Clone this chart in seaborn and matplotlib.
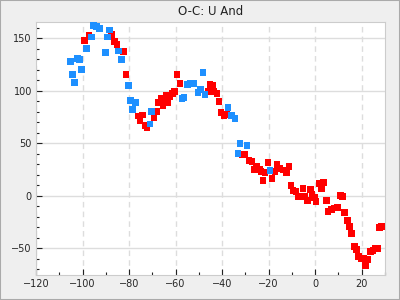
import matplotlib
matplotlib.use("Agg")
import matplotlib.pyplot as plt
from matplotlib.patches import Rectangle
from matplotlib.ticker import MultipleLocator
import seaborn as sns
import pandas as pd

title = "O-C: U And"

blue_x = [-95.3, -94.1, -92.7, -96.2, -88.4, -89.3, -98.3, -90.1, -84.5, -83.2,
          -102.2, -101.3, -105.2, -100.5, -104.3, -103.5, -80.2, -79.3, -77.2, -78.5,
          -70.3, -71.1, -57.3, -56.3, -54.8, -53.5, -52.2, -48.3, -50.4, -49.2,
          -47.4, -37.5, -35.9, -34.5, -32.3, -29.3, -33.2, -19.4]
blue_y = [162.4, 161.0, 159.5, 151.2, 157.9, 151.2, 140.5, 136.7, 137.9, 130.0,
          131.0, 129.6, 128.1, 120.5, 115.7, 108.1, 105.2, 91.0, 89.0, 82.4,
          80.5, 68.4, 92.9, 93.8, 106.2, 107.1, 107.1, 117.6, 98.6, 101.4,
          96.7, 84.3, 76.7, 73.8, 50.0, 48.1, 40.5, 24.3]

red_x = [-97.3, -99.2, -87.5, -86.2, -85.2, -82.4, -81.3, -59.5, -58.2, -76.1,
         -74.2, -75.3, -73.0, -72.3, -69.2, -68.1, -67.3, -66.2, -65.4, -64.2,
         -63.4, -62.5, -61.4, -60.4, -45.3, -44.2, -46.1, -43.5, -42.3, -41.4,
         -40.5, -39.2, -38.2, -31.3, -30.1, -28.4, -27.1, -25.3, -26.1, -24.0,
         -23.3, -21.6, -22.4, -20.3, -18.5, -17.2, -16.4, -15.2, -13.8, -12.3,
         -11.2, -10.3, -9.5, -8.2, -7.3, -5.2, -6.0, -4.3, -3.4, -2.1,
         -1.3, -0.4, 0.4, 1.7, 3.5, 2.6, 4.8, 5.6, 6.9, 8.2,
         9.5, 10.8, 11.8, 12.5, 13.8, 14.7, 15.5, 16.8, 17.7, 18.6,
         19.8, 21.0, 21.6, 22.5, 23.7, 24.8, 25.8, 26.9, 27.7, 28.6]
red_y = [152.9, 148.1, 153.8, 147.1, 144.3, 137.6, 115.7, 115.7, 107.1, 76.0,
         77.0, 71.2, 67.1, 65.2, 74.8, 80.5, 89.0, 92.9, 86.2, 95.7,
         89.0, 94.8, 97.6, 99.5, 106.2, 105.2, 99.5, 99.5, 97.6, 90.0,
         79.5, 76.7, 77.6, 39.5, 39.5, 33.8, 32.9, 28.1, 25.2, 25.8,
         23.3, 22.4, 14.8, 31.9, 16.7, 23.3, 30.0, 26.2, 24.6, 22.4,
         28.1, 10.0, 5.2, 4.3, -0.5, 7.1, -0.5, -0.5, -4.3, 6.2,
         2.0, -1.4, -5.2, 11.9, 12.9, 7.1, -4.3, -14.8, -12.9, -11.6,
         -11.0, 0.5, -0.5, -15.7, -23.3, -29.0, -35.7, -48.1, -51.0, -57.6,
         -59.5, -59.5, -66.2, -60.5, -52.9, -51.9, -50.0, -50.0, -30.0, -29.0]

x_ticks = [-120, -100, -80, -60, -40, -20, 0, 20]
y_ticks = [-50, 0, 50, 100, 150]

df = pd.DataFrame({
    "x": red_x + blue_x,
    "y": red_y + blue_y,
    "series": ["red"] * len(red_x) + ["blue"] * len(blue_x),
})

sns.set_style("white")
plt.rcParams['font.family'] = ['DejaVu Sans']

fig = plt.figure(figsize=(4, 3), dpi=100, facecolor="#efefef")
ax = fig.add_axes([0.09, 0.0843, 0.8725, 0.8424])
ax.set_facecolor("white")

sns.scatterplot(data=df, x="x", y="y", hue="series",
                palette={"red": "#ff0000", "blue": "#1e90ff"},
                marker="s", s=22, linewidth=0, legend=False, ax=ax, zorder=3)

ax.set_xlim(-120, 30)
ax.set_ylim(-75, 165.5)
ax.set_xticks(x_ticks)
ax.set_yticks(y_ticks)
ax.xaxis.set_minor_locator(MultipleLocator(10))
ax.yaxis.set_minor_locator(MultipleLocator(10))
ax.tick_params(which="major", direction="in", length=4.5, width=0.8, color="#222222",
               labelsize=7, pad=3, bottom=True, left=True)
ax.tick_params(which="minor", direction="in", length=2.5, width=0.8, color="#222222",
               bottom=True, left=True)
ax.xaxis.grid(True, which="major", linestyle=(0, (4, 3)), color="#dddddd", linewidth=1)
ax.yaxis.grid(True, which="major", linestyle="-", color="#dddddd", linewidth=1)
ax.set_axisbelow(True)
for sp in ax.spines.values():
    sp.set_color("#cccccc")
    sp.set_linewidth(0.8)
ax.set_xlabel("")
ax.set_ylabel("")
ax.set_title(title, fontsize=8.5, color="#222222", pad=5)

fig.patches.append(Rectangle((0, 0), 1, 1, transform=fig.transFigure,
                             fill=False, edgecolor="#aaaaaa", linewidth=1.5))

fig.savefig("out.png", dpi=100, facecolor=fig.get_facecolor())
